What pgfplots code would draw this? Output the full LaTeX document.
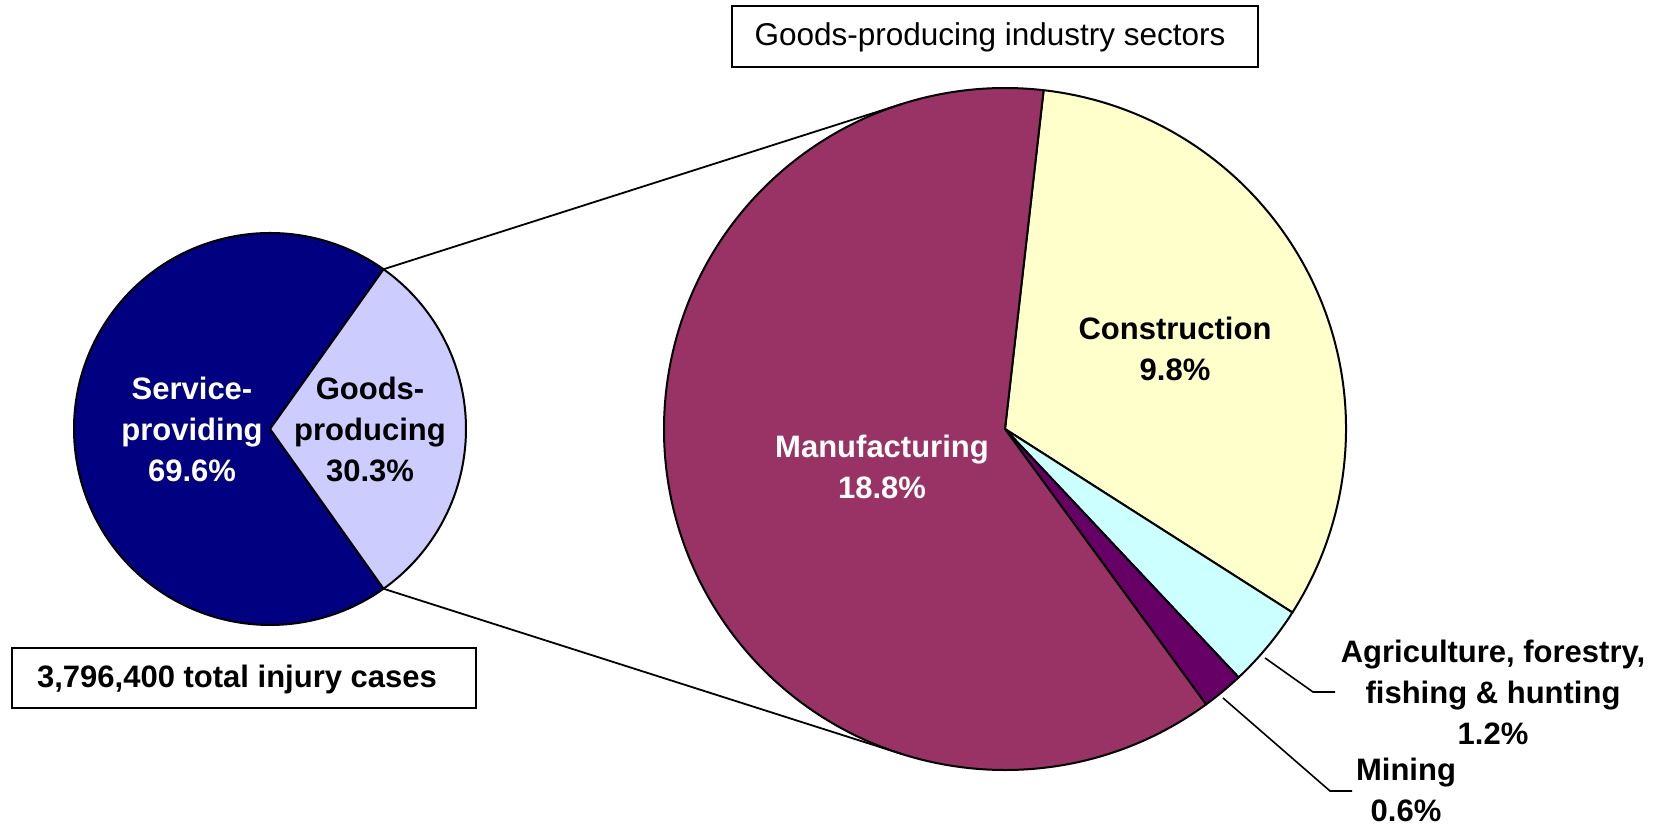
\documentclass[border=0pt]{standalone}
\usepackage{pgfplots}
\usepackage{pgfplotstable}
\pgfplotsset{compat=1.18}
\usepackage{fontspec}
\setmainfont{Liberation Sans}

\definecolor{svc}{HTML}{000080}
\definecolor{gds}{HTML}{CCCCFF}
\definecolor{man}{HTML}{993366}
\definecolor{con}{HTML}{FFFFCC}
\definecolor{agr}{HTML}{CCFFFF}
\definecolor{mng}{HTML}{660066}

% all injury cases, percent
\pgfplotstableread{
name value
Service 69.6
Goods 30.3
}\alltab
% goods-producing sectors, percent of all cases
\pgfplotstableread{
name value
Construction 9.8
Agriculture 1.2
Mining 0.6
Manufacturing 18.8
}\goodstab

\newcommand{\getval}[3]{\pgfplotstablegetelem{#1}{value}\of#2\global\let#3\pgfplotsretval}
% cx, cy, r, start, end, colour
\newcommand{\slice}[6]{\fill[#6, draw=black, line width=2pt, line join=round]
  (axis cs:#1,#2) -- (axis cs:{#1+#3*cos(#4)},{#2+#3*sin(#4)})
  arc[start angle=#4, end angle=#5, radius=#3pt] -- cycle;}
\newcommand{\lbl}{\fontsize{31}{41}\selectfont\bfseries}

\begin{document}
\begin{tikzpicture}
\getval{0}{\alltab}{\vSvc}\getval{1}{\alltab}{\vGds}
\getval{0}{\goodstab}{\vCon}\getval{1}{\goodstab}{\vAgr}
\getval{2}{\goodstab}{\vMin}\getval{3}{\goodstab}{\vMan}
\pgfmathsetmacro{\ga}{180*\vGds/(\vSvc+\vGds)}
\pgfmathsetmacro{\gb}{360-\ga}
\pgfmathsetmacro{\rsum}{\vCon+\vAgr+\vMin+\vMan}
\pgfmathsetmacro{\aA}{83.5}
\pgfmathsetmacro{\aB}{\aA-360*\vCon/\rsum}
\pgfmathsetmacro{\aC}{\aB-360*\vAgr/\rsum}
\pgfmathsetmacro{\aD}{\aC-360*\vMin/\rsum}
\pgfmathsetmacro{\aE}{\aA-360}
% connector lines: from goods wedge edge to tangent of big pie
\pgfmathsetmacro{\px}{270+196*cos(\ga)}
\pgfmathsetmacro{\py}{396+196*sin(\ga)}
\pgfmathsetmacro{\qy}{396-196*sin(\ga)}
\pgfmathsetmacro{\dd}{veclen(\px-1005,\py-396)}
\pgfmathsetmacro{\phiA}{atan2(\py-396,\px-1005)-acos(341/\dd)}
\pgfmathsetmacro{\tx}{1005+341*cos(\phiA)}
\pgfmathsetmacro{\ty}{396+341*sin(\phiA)}
\pgfmathsetmacro{\uy}{396-341*sin(\phiA)}
\begin{axis}[
  x=1pt, y=1pt, scale only axis, disabledatascaling,
  xmin=0, xmax=1667, ymin=0, ymax=825,
  hide axis, clip=false
  ]
  \path (axis cs:0,0) rectangle (axis cs:1667,825);
  % small pie
  \slice{270}{396}{196}{\ga}{\gb}{svc}
  \slice{270}{396}{196}{\ga}{-\ga}{gds}
  % big pie
  \slice{1005}{396}{341}{\aA}{\aB}{con}
  \slice{1005}{396}{341}{\aB}{\aC}{agr}
  \slice{1005}{396}{341}{\aC}{\aD}{mng}
  \slice{1005}{396}{341}{\aD}{\aE}{man}
  \draw[line width=1.8pt] (axis cs:\px,\py) -- (axis cs:\tx,\ty);
  \draw[line width=1.8pt] (axis cs:\px,\qy) -- (axis cs:\tx,\uy);
  % labels
  \node[font=\lbl, text=white, align=center] at (axis cs:192,396) {Service-\\providing\\69.6\%};
  \node[font=\lbl, align=center] at (axis cs:370,396) {Goods-\\producing\\30.3\%};
  \node[font=\lbl, align=center] at (axis cs:1175,476) {Construction\\9.8\%};
  \node[font=\lbl, text=white, align=center] at (axis cs:882,358) {Manufacturing\\18.8\%};
  \node[font=\lbl, align=center] at (axis cs:1493,133) {Agriculture, forestry,\\fishing \& hunting\\1.2\%};
  \node[font=\lbl, align=center] at (axis cs:1406,35) {Mining\\0.6\%};
  \draw[line width=1.6pt] (axis cs:1265,167) -- (axis cs:1313,133) -- (axis cs:1335,133);
  \draw[line width=1.6pt] (axis cs:1223,127) -- (axis cs:1330,34) -- (axis cs:1352,34);
  % boxes
  \draw[line width=1.8pt] (axis cs:732,758) rectangle (axis cs:1258,819);
  \node[font=\fontsize{31.5}{37}\selectfont] at (axis cs:990,788) {Goods-producing industry sectors};
  \draw[line width=1.8pt] (axis cs:12,117) rectangle (axis cs:476,177);
  \node[font=\lbl] at (axis cs:237,146) {3,796,400 total injury cases};
\end{axis}
\end{tikzpicture}
\end{document}
